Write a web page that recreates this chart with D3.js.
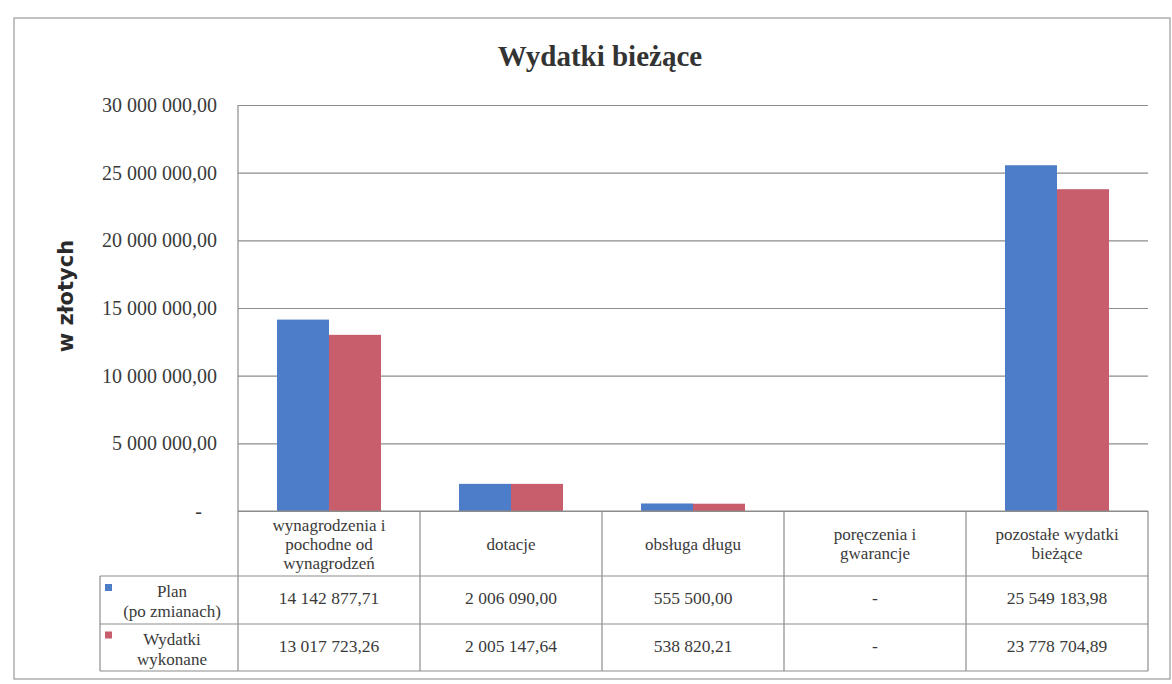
<!DOCTYPE html>
<html><head><meta charset="utf-8">
<script src="https://cdn.jsdelivr.net/npm/d3@7"></script>
<style>
html,body{margin:0;padding:0;background:#fff;}
svg{display:block;}
</style></head>
<body>
<svg id="c" width="1172" height="684"></svg>
<script>
const categories = [
  ["wynagrodzenia i","pochodne od","wynagrodzeń"],
  ["dotacje"],
  ["obsługa długu"],
  ["poręczenia i","gwarancje"],
  ["pozostałe wydatki","bieżące"]
];
const seriesNames = [["Plan","(po zmianach)"],["Wydatki","wykonane"]];
const planValues = [14142877.71, 2006090.00, 555500.00, null, 25549183.98];
const wykonaneValues = [13017723.26, 2005147.64, 538820.21, null, 23778704.89];
const yTicks = [0, 5000000, 10000000, 15000000, 20000000, 25000000, 30000000];
const colors = ["#4d7cc9", "#c85d6b"];
const title = "Wydatki bieżące";
const yTitle = "w złotych";

const series = [planValues, wykonaneValues];
const loc = d3.formatLocale({decimal:",", thousands:" ", grouping:[3], currency:["",""]});
const fmt = loc.format(",.2f");
const fmtVal = v => (v === null || v === 0) ? "-" : fmt(v);

const svg = d3.select("#c");
const serif = "'Liberation Serif', 'Times New Roman', serif";
const txt = "#3a3a3a";

// outer frame
svg.append("rect").attr("x",14).attr("y",18).attr("width",1156).attr("height",661)
  .attr("fill","none").attr("stroke","#9a9a9a").attr("stroke-width",1.2);

const L = 238, R = 1148, T = 105, B = 511;
const x = d3.scaleBand().domain(d3.range(categories.length)).range([L, R]).paddingInner(0).paddingOuter(0);
const y = d3.scaleLinear().domain([0, 30000000]).range([B, T]);
const xs = d3.scaleBand().domain([0,1]).range([0, x.bandwidth()]).paddingInner(0).paddingOuter(0.75);

// title
svg.append("text").attr("x", 600).attr("y", 66).attr("text-anchor","middle")
  .style("font-family", serif).style("font-weight","bold").style("font-size", "29px")
  .attr("fill","#333").text(title);

// y axis title
svg.append("text").attr("transform","translate(73,296) rotate(-90)").attr("text-anchor","middle")
  .style("font-family","'DejaVu Sans', sans-serif").style("font-weight","bold").style("font-size","21px")
  .attr("fill","#2a2a2a").text(yTitle);

// gridlines + axis
const yAxis = d3.axisLeft(y).tickValues(yTicks).tickSize(-(R - L)).tickPadding(0)
  .tickFormat(d => d === 0 ? "-" : fmt(d));
const ga = svg.append("g").attr("transform", `translate(${L},0)`).call(yAxis);
ga.select(".domain").remove();
ga.selectAll(".tick line").attr("stroke","#8c8c8c").attr("stroke-width",1.2);
ga.selectAll(".tick text").style("font-family", serif).style("font-size","20px").attr("fill", txt)
  .attr("x", d => d === 0 ? -36 : -21);
// left axis line
svg.append("line").attr("x1",L).attr("x2",L).attr("y1",T).attr("y2",B)
  .attr("stroke","#8c8c8c").attr("stroke-width",1.2);

// bars
series.forEach((vals, si) => {
  svg.append("g").selectAll("rect").data(vals.map((v,i)=>({v,i})).filter(d=>d.v))
    .join("rect")
    .attr("x", d => x(d.i) + xs(si))
    .attr("width", xs.bandwidth())
    .attr("y", d => y(d.v))
    .attr("height", d => y(0) - y(d.v))
    .attr("fill", colors[si]);
});

// data table
const rowH = [65, 48, 47];
const rowY = [B, B + rowH[0], B + rowH[0] + rowH[1], B + rowH[0] + rowH[1] + rowH[2]];
const legL = 100;
const tg = svg.append("g").attr("stroke","#8c8c8c").attr("stroke-width",1.2);
tg.append("line").attr("x1",L).attr("x2",R).attr("y1",rowY[0]).attr("y2",rowY[0]);
[1,2,3].forEach(k => tg.append("line").attr("x1",legL).attr("x2",R).attr("y1",rowY[k]).attr("y2",rowY[k]));
d3.range(categories.length + 1).forEach(k => {
  const xx = L + k * x.bandwidth();
  tg.append("line").attr("x1",xx).attr("x2",xx).attr("y1",rowY[0]).attr("y2",rowY[3]);
});
tg.append("line").attr("x1",legL).attr("x2",legL).attr("y1",rowY[1]).attr("y2",rowY[3]);

// header text
categories.forEach((lines, i) => {
  const cx = x(i) + x.bandwidth()/2;
  const lh = 19;
  const cy = (rowY[0] + rowY[1]) / 2;
  const y0 = cy - (lines.length - 1) * lh / 2 + 6;
  const t = svg.append("text").attr("text-anchor","middle").style("font-family", serif)
    .style("font-size","17px").attr("fill", txt);
  lines.forEach((ln, j) => t.append("tspan").attr("x", cx).attr("y", y0 + j*lh).text(ln));
});

// values + legend
series.forEach((vals, si) => {
  const cy = (rowY[si+1] + rowY[si+2]) / 2 + 4;
  vals.forEach((v, i) => {
    svg.append("text").attr("x", x(i) + x.bandwidth()/2).attr("y", cy)
      .attr("text-anchor","middle").style("font-family", serif).style("font-size","17.5px")
      .attr("fill", txt).text(fmtVal(v));
  });
  const lx = 172;
  const t = svg.append("text").attr("text-anchor","middle").style("font-family", serif)
    .style("font-size","17px").attr("fill", txt);
  seriesNames[si].forEach((ln, j) => t.append("tspan").attr("x", lx).attr("y", cy - 7 + j*20).text(ln));
  svg.append("rect").attr("x", legL + 5).attr("y", cy - 20).attr("width",7).attr("height",7).attr("fill", colors[si]);
});
</script>
</body></html>
